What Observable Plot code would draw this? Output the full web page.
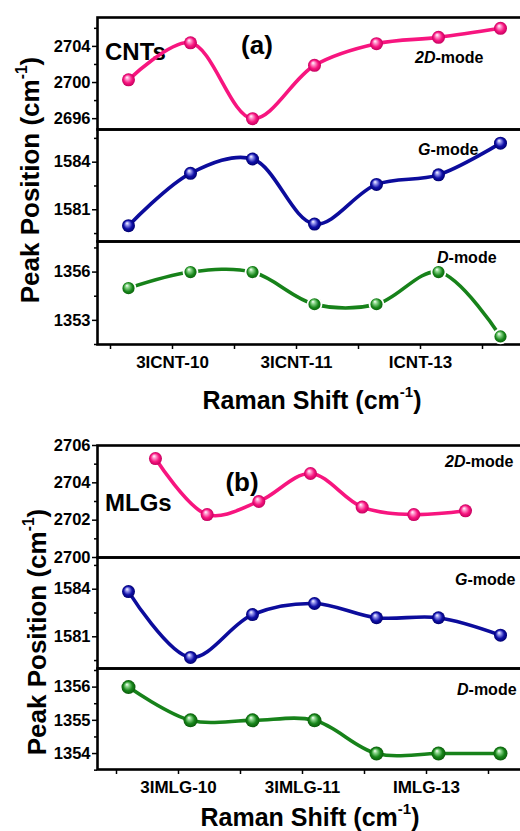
<!DOCTYPE html>
<html>
<head>
<meta charset="utf-8">
<script src="https://cdn.jsdelivr.net/npm/d3@7"></script>
<script src="https://cdn.jsdelivr.net/npm/@observablehq/plot@0.6"></script>
<style>
  html, body { margin: 0; padding: 0; background: #fff; }
  body { width: 520px; height: 831px; overflow: hidden; font-family: "Liberation Sans", Arial, sans-serif; }
  #chart { position: relative; width: 520px; height: 831px; overflow: hidden; background: #fff; }
  .pw { position: absolute; left: 0; }
  .ann { position: absolute; font-weight: bold; line-height: 1; white-space: nowrap; color: #000; transform: translateY(-50%); }
  .ctr { transform: translate(-50%, -50%); }
  .ytitle { position: absolute; font-weight: bold; white-space: nowrap; line-height: 1; transform: translate(-50%, -50%) rotate(-90deg); }
  sup { font-size: 0.6em; vertical-align: 0.75em; line-height: 0; }
</style>
</head>
<body>
<svg width="0" height="0" style="position:absolute">
  <defs>
    <radialGradient id="gPink" cx="0.5" cy="0.5" r="0.5" fx="0.38" fy="0.3">
      <stop offset="0" stop-color="#ffffff"/>
      <stop offset="0.25" stop-color="#ff9cd0"/>
      <stop offset="0.65" stop-color="#f7157f"/>
      <stop offset="1" stop-color="#c4005e"/>
    </radialGradient>
    <radialGradient id="gBlue" cx="0.5" cy="0.5" r="0.5" fx="0.38" fy="0.3">
      <stop offset="0" stop-color="#ffffff"/>
      <stop offset="0.25" stop-color="#9a9af0"/>
      <stop offset="0.65" stop-color="#1010a8"/>
      <stop offset="1" stop-color="#000070"/>
    </radialGradient>
    <radialGradient id="gGreen" cx="0.5" cy="0.5" r="0.5" fx="0.38" fy="0.3">
      <stop offset="0" stop-color="#ffffff"/>
      <stop offset="0.25" stop-color="#8fd88f"/>
      <stop offset="0.65" stop-color="#17861a"/>
      <stop offset="1" stop-color="#0a5a0a"/>
    </radialGradient>
  </defs>
</svg>
<div id="chart">
  <div class="ytitle" style="left:30px; top:180px; font-size:26px;">Peak Position (cm<sup>-1</sup>)</div>
  <div class="ytitle" style="left:37px; top:632px; font-size:26px;">Peak Position (cm<sup>-1</sup>)</div>

  <div class="ann" style="left:105px; top:52px; font-size:24px;">CNTs</div>
  <div class="ann ctr" style="left:257px; top:45px; font-size:26px;">(a)</div>
  <div class="ann" style="left:415px; top:58px; font-size:16px;"><i>2D</i>-mode</div>
  <div class="ann" style="left:418px; top:150px; font-size:16px;"><i>G</i>-mode</div>
  <div class="ann" style="left:437px; top:258px; font-size:16px;"><i>D</i>-mode</div>
  <div class="ann ctr" style="left:312px; top:400px; font-size:25px;">Raman Shift (cm<sup>-1</sup>)</div>

  <div class="ann" style="left:445px; top:462px; font-size:16px;"><i>2D</i>-mode</div>
  <div class="ann" style="left:105px; top:503px; font-size:24px;">MLGs</div>
  <div class="ann ctr" style="left:242px; top:482px; font-size:26px;">(b)</div>
  <div class="ann" style="left:455px; top:580px; font-size:16px;"><i>G</i>-mode</div>
  <div class="ann" style="left:457px; top:690px; font-size:16px;"><i>D</i>-mode</div>
  <div class="ann ctr" style="left:310px; top:817px; font-size:25px;">Raman Shift (cm<sup>-1</sup>)</div>
</div>
<script>
// ---- data ----
const sampleIndex = [0, 1, 2, 3, 4, 5, 6];
const sampleLabelsA = ["", "3ICNT-10", "", "3ICNT-11", "", "ICNT-13", ""];
const sampleLabelsB = ["", "3IMLG-10", "", "3IMLG-11", "", "IMLG-13", ""];

const cnt2D = [2700.3, 2704.4, 2696.0, 2701.9, 2704.3, 2705.0, 2706.0];
const cntG  = [1580.0, 1583.3, 1584.2, 1580.1, 1582.6, 1583.2, 1585.2];
const cntD  = [1355, 1356, 1356, 1354, 1354, 1356, 1352];

const mlg2D = [2705.3, 2702.3, 2703.0, 2704.5, 2702.7, 2702.3, 2702.5];
const mlgG  = [1583.85, 1579.7, 1582.4, 1583.1, 1582.2, 1582.2, 1581.1];
const mlgD  = [1356, 1355, 1355, 1355, 1354, 1354, 1354];

const cnt2DTicks = [2696, 2700, 2704];
const cnt2DMinor = [2698, 2702, 2706];
const cntGTicks = [1581, 1584];
const cntGMinor = [1579.5, 1582.5, 1585.5];
const cntDTicks = [1353, 1356];
const cntDMinor = [1351.5, 1354.5, 1357.5];
const mlg2DTicks = [2700, 2702, 2704, 2706];
const mlg2DMinor = [2701, 2703, 2705];
const mlgGTicks = [1581, 1584];
const mlgGMinor = [1579.5, 1582.5, 1585.5];
const mlgDTicks = [1354, 1355, 1356];
const mlgDMinor = [1353.5, 1354.5, 1355.5, 1356.5];

const PINK = "#f7157f", BLUE = "#0c0c9c", GREEN = "#17821a";
const FONT = "'Liberation Sans', Arial, sans-serif";

function panel(o) {
  const mt = 4, mb = o.labels ? 40 : 4;
  const rows = sampleIndex.map((i) => ({i, v: o.values[i]}));
  const marks = [
    Plot.frame({stroke: "black", strokeWidth: 2.6}),
    Plot.axisY(o.major, {anchor: "left", tickSize: 5, tickPadding: 2, fontSize: 16.5, fontWeight: "bold", label: null, strokeWidth: 1.5, tickFormat: (d) => String(d)}),
    Plot.axisY(o.minor, {anchor: "left", tickSize: 3, tickFormat: () => "", label: null, strokeWidth: 1.5}),
    Plot.line(rows, {x: "i", y: "v", stroke: o.color, strokeWidth: 3.6, curve: "catmull-rom"}),
    Plot.dot(rows, {x: "i", y: "v", r: o.r || 6.5, fill: o.grad, stroke: o.dotStroke || "none", strokeWidth: o.dotStroke ? 1.8 : 0})
  ];
  if (o.labels) {
    marks.push(Plot.axisX(sampleIndex, {anchor: "bottom", tickSize: 5, tickPadding: 6, fontSize: 17, fontWeight: "bold", label: null, strokeWidth: 1.5, dx: o.labelDx, tickFormat: (d) => o.labels[d]}));
  }
  const svg = Plot.plot({
    width: 531,
    height: o.h + mt + mb,
    marginLeft: 97,
    marginRight: 0,
    marginTop: mt,
    marginBottom: mb,
    style: {background: "transparent", overflow: "visible", maxWidth: "none", fontFamily: FONT, color: "#000"},
    x: {domain: o.xDomain || [-0.5, 6.5], axis: null},
    y: {domain: o.yDomain, axis: null},
    marks
  });
  const wrap = document.createElement("div");
  wrap.className = "pw";
  wrap.style.top = (o.top - mt) + "px";
  wrap.appendChild(svg);
  document.getElementById("chart").appendChild(wrap);
}

panel({values: cnt2D, color: PINK, grad: "url(#gPink)", yDomain: [2694.8, 2707.2], major: cnt2DTicks, minor: cnt2DMinor, top: 17, h: 112});
panel({values: cntG, color: BLUE, grad: "url(#gBlue)", yDomain: [1579.0, 1586.06], major: cntGTicks, minor: cntGMinor, top: 129, h: 112});
panel({values: cntD, color: GREEN, grad: "url(#gGreen)", yDomain: [1351.5, 1357.9], major: cntDTicks, minor: cntDMinor, top: 241, h: 103, r: 7, dotStroke: "white", labels: sampleLabelsA, labelDx: -18});

panel({values: mlg2D, color: PINK, grad: "url(#gPink)", yDomain: [2700, 2706], major: mlg2DTicks, minor: mlg2DMinor, top: 445, h: 112, xDomain: [-1.122, 7.277]});
panel({values: mlgG, color: BLUE, grad: "url(#gBlue)", yDomain: [1579.0, 1586.0], major: mlgGTicks, minor: mlgGMinor, top: 557, h: 111});
panel({values: mlgD, color: GREEN, grad: "url(#gGreen)", yDomain: [1353.52, 1356.56], major: mlgDTicks, minor: mlgDMinor, top: 668, h: 101, r: 7, labels: sampleLabelsB, labelDx: -12});
</script>
</body>
</html>
